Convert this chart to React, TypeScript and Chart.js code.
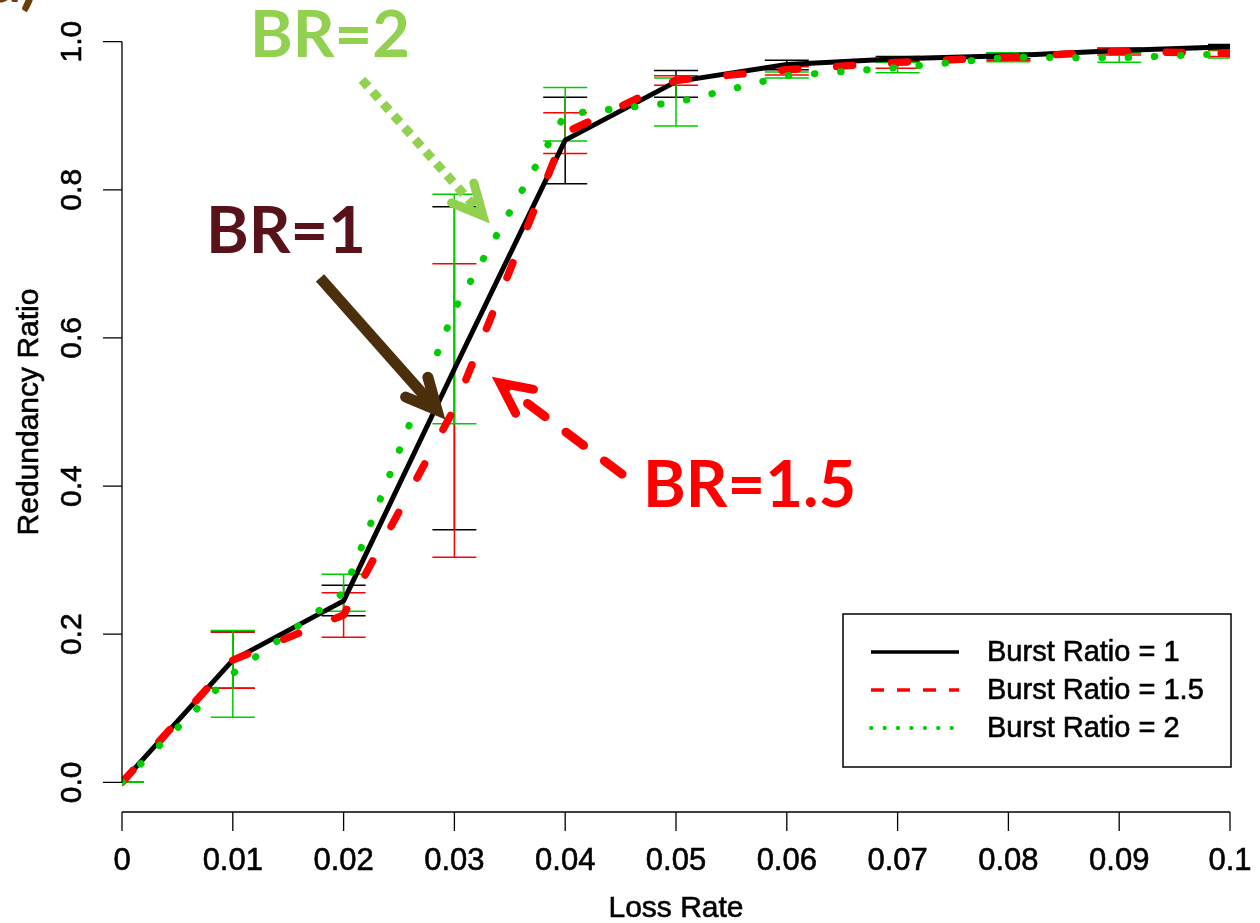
import React, { useEffect, useRef } from "react";
import { Chart, registerables } from "chart.js";

Chart.register(...registerables);

// ---------- data ----------
const lossRates = [0, 0.01, 0.02, 0.03, 0.04, 0.05, 0.06, 0.07, 0.08, 0.09, 0.1];

const br1 = [0, 0.165, 0.245, 0.558, 0.867, 0.946, 0.969, 0.977, 0.981, 0.988, 0.993];
const br1Lo = [0, 0.127, 0.225, 0.341, 0.808, 0.925, 0.962, 0.973, 0.977, 0.985, 0.99];
const br1Hi = [0, 0.203, 0.266, 0.777, 0.925, 0.961, 0.975, 0.98, 0.985, 0.991, 0.996];

const br15 = [0, 0.165, 0.226, 0.505, 0.877, 0.948, 0.962, 0.972, 0.979, 0.987, 0.984];
const br15Lo = [0, 0.127, 0.196, 0.304, 0.849, 0.941, 0.955, 0.964, 0.975, 0.982, 0.98];
const br15Hi = [0, 0.203, 0.256, 0.7, 0.904, 0.954, 0.966, 0.975, 0.983, 0.991, 0.988];

const br2 = [0, 0.147, 0.256, 0.638, 0.902, 0.918, 0.954, 0.965, 0.979, 0.978, 0.984];
const br2Lo = [0, 0.088, 0.231, 0.484, 0.866, 0.886, 0.951, 0.958, 0.973, 0.972, 0.978];
const br2Hi = [0, 0.205, 0.281, 0.794, 0.938, 0.951, 0.959, 0.972, 0.985, 0.985, 0.989];

const xTicks = [0, 0.01, 0.02, 0.03, 0.04, 0.05, 0.06, 0.07, 0.08, 0.09, 0.1];
const xTickLabels = ["0", "0.01", "0.02", "0.03", "0.04", "0.05", "0.06", "0.07", "0.08", "0.09", "0.1"];
const yTicks = [0, 0.2, 0.4, 0.6, 0.8, 1.0];
const yTickLabels = ["0.0", "0.2", "0.4", "0.6", "0.8", "1.0"];

const seriesLabels = ["Burst Ratio = 1", "Burst Ratio = 1.5", "Burst Ratio = 2"];
const xTitle = "Loss Rate";
const yTitle = "Redundancy Ratio";

// annotations (data coordinates)
const annTexts = ["BR=2", "BR=1", "BR=1.5"];
const annTextX = [0.01155, 0.00758, 0.04702];
const annTextY = [0.9797, 0.7149, 0.3716];
const annColors = ["#92d050", "#58121a", "#ff0000"];
const arrowFromX = [0.02166, 0.01787, 0.04513];
const arrowFromY = [0.9486, 0.6811, 0.4162];
const arrowToX = [0.03258, 0.02843, 0.03412];
const arrowToY = [0.7649, 0.5027, 0.5392];
const arrowColors = ["#92d050", "#4b2f0c", "#ff0000"];

const FONT = "'Liberation Sans', Arial, sans-serif";

function heavyText(ctx: CanvasRenderingContext2D, t: string, x: number, y: number) {
  ctx.fillText(t, x, y);
  ctx.strokeText(t, x, y);
}

const rPlugin = {
  id: "rstyle",
  beforeDatasetsDraw(chart: any) {
    const { ctx, chartArea } = chart;
    const xs = chart.scales.x;
    const ys = chart.scales.y;
    ctx.save();
    ctx.beginPath();
    ctx.rect(chartArea.left, chartArea.top, chartArea.right - chartArea.left, chartArea.bottom - chartArea.top);
    ctx.clip();
    ctx.lineWidth = 1.5;
    const sets = [
      { lo: br1Lo, hi: br1Hi, color: "#000000" },
      { lo: br15Lo, hi: br15Hi, color: "#ff0000" },
      { lo: br2Lo, hi: br2Hi, color: "#00cd00" },
    ];
    sets.forEach((s) => {
      ctx.strokeStyle = s.color;
      lossRates.forEach((lr, i) => {
        const px = xs.getPixelForValue(lr);
        const pl = ys.getPixelForValue(s.lo[i]);
        const ph = ys.getPixelForValue(s.hi[i]);
        ctx.beginPath();
        ctx.moveTo(px, pl);
        ctx.lineTo(px, ph);
        ctx.moveTo(px - 22, pl);
        ctx.lineTo(px + 22, pl);
        ctx.moveTo(px - 22, ph);
        ctx.lineTo(px + 22, ph);
        ctx.stroke();
      });
    });
    ctx.restore();
  },
  afterDraw(chart: any) {
    const { ctx, chartArea } = chart;
    const xs = chart.scales.x;
    const ys = chart.scales.y;
    ctx.save();
    // ---- axes ----
    ctx.strokeStyle = "#000";
    ctx.lineWidth = 1.3;
    const x0 = xs.getPixelForValue(0);
    const yb = chartArea.bottom;
    ctx.beginPath();
    ctx.moveTo(x0, ys.getPixelForValue(yTicks[0]));
    ctx.lineTo(x0, ys.getPixelForValue(yTicks[yTicks.length - 1]));
    yTicks.forEach((t) => {
      const py = ys.getPixelForValue(t);
      ctx.moveTo(x0 - 19, py);
      ctx.lineTo(x0, py);
    });
    ctx.moveTo(xs.getPixelForValue(xTicks[0]), yb);
    ctx.lineTo(xs.getPixelForValue(xTicks[xTicks.length - 1]), yb);
    xTicks.forEach((t) => {
      const px = xs.getPixelForValue(t);
      ctx.moveTo(px, yb);
      ctx.lineTo(px, yb + 19);
    });
    ctx.stroke();

    ctx.fillStyle = "#000";
    ctx.strokeStyle = "#000";
    ctx.lineWidth = 0.6;
    ctx.font = `31px ${FONT}`;
    ctx.textAlign = "center";
    ctx.textBaseline = "middle";
    xTicks.forEach((t, i) => {
      heavyText(ctx, xTickLabels[i], xs.getPixelForValue(t), yb + 49);
    });
    ctx.font = `30px ${FONT}`;
    yTicks.forEach((t, i) => {
      ctx.save();
      ctx.translate(x0 - 49, ys.getPixelForValue(t));
      ctx.rotate(-Math.PI / 2);
      heavyText(ctx, yTickLabels[i], 0, 0);
      ctx.restore();
    });
    ctx.font = `30px ${FONT}`;
    heavyText(ctx, xTitle, (xs.getPixelForValue(0) + xs.getPixelForValue(0.1)) / 2, yb + 97);
    ctx.save();
    ctx.translate(x0 - 92, (ys.getPixelForValue(0) + ys.getPixelForValue(1)) / 2);
    ctx.rotate(-Math.PI / 2);
    heavyText(ctx, yTitle, 0, 0);
    ctx.restore();

    // ---- legend ----
    const bw = 388, bh = 153;
    const bx = chartArea.right - bw + 1;
    const by = yb - 45 - bh;
    ctx.lineWidth = 1.5;
    ctx.strokeStyle = "#000";
    ctx.strokeRect(bx, by, bw, bh);
    const styles = [
      { color: "#000", width: 3.5, dash: [] as number[], cap: "butt" },
      { color: "#ff0000", width: 3.5, dash: [13, 13], cap: "butt" },
      { color: "#00cd00", width: 3.8, dash: [0.5, 12.9], cap: "round" },
    ];
    styles.forEach((s, i) => {
      const ry = by + 38 + i * 38;
      ctx.save();
      ctx.strokeStyle = s.color;
      ctx.lineWidth = s.width;
      ctx.setLineDash(s.dash);
      ctx.lineCap = s.cap as CanvasLineCap;
      ctx.beginPath();
      ctx.moveTo(bx + 28, ry);
      ctx.lineTo(bx + 116, ry);
      ctx.stroke();
      ctx.restore();
      ctx.fillStyle = "#000";
      ctx.strokeStyle = "#000";
      ctx.lineWidth = 0.6;
      ctx.font = `29px ${FONT}`;
      ctx.textAlign = "left";
      ctx.textBaseline = "middle";
      heavyText(ctx, seriesLabels[i], bx + 144, ry + 1);
    });

    // ---- annotations ----
    const arrowStyles = [
      { width: 9, dash: [9, 7], cap: "butt" },
      { width: 11, dash: [] as number[], cap: "butt" },
      { width: 9, dash: [22, 26], cap: "round" },
    ];
    arrowStyles.forEach((s, i) => {
      const fx = xs.getPixelForValue(arrowFromX[i]);
      const fy = ys.getPixelForValue(arrowFromY[i]);
      const tx = xs.getPixelForValue(arrowToX[i]);
      const ty = ys.getPixelForValue(arrowToY[i]);
      const ang = Math.atan2(ty - fy, tx - fx);
      ctx.save();
      ctx.strokeStyle = arrowColors[i];
      ctx.lineWidth = s.width;
      ctx.lineCap = s.cap as CanvasLineCap;
      ctx.setLineDash(s.dash);
      ctx.beginPath();
      ctx.moveTo(fx, fy);
      ctx.lineTo(tx - Math.cos(ang) * 6, ty - Math.sin(ang) * 6);
      ctx.stroke();
      ctx.setLineDash([]);
      ctx.lineCap = "round";
      ctx.lineJoin = "miter";
      const L = 34, a = (26 * Math.PI) / 180;
      ctx.beginPath();
      ctx.moveTo(tx - L * Math.cos(ang - a), ty - L * Math.sin(ang - a));
      ctx.lineTo(tx, ty);
      ctx.lineTo(tx - L * Math.cos(ang + a), ty - L * Math.sin(ang + a));
      ctx.stroke();
      ctx.restore();
    });
    ctx.textAlign = "left";
    ctx.textBaseline = "alphabetic";
    ctx.font = `bold 65px Lato, 'Open Sans', sans-serif`;
    annTexts.forEach((t, i) => {
      ctx.fillStyle = annColors[i];
      ctx.fillText(t, xs.getPixelForValue(annTextX[i]), ys.getPixelForValue(annTextY[i]));
    });
    // partial panel label at the top-left corner
    ctx.fillStyle = "#6b3f0c";
    ctx.textAlign = "right";
    ctx.fillText("a)", 38, 2);
    ctx.restore();
  },
};

export default function App() {
  const ref = useRef<HTMLCanvasElement | null>(null);
  useEffect(() => {
    if (!ref.current) return;
    const mk = (vals: number[]) => lossRates.map((x, i) => ({ x, y: vals[i] }));
    const chart = new Chart(ref.current, {
      type: "line",
      data: {
        datasets: [
          {
            label: seriesLabels[0],
            data: mk(br1),
            borderColor: "#000000",
            borderWidth: 5,
            pointRadius: 0,
            tension: 0,
            order: 3,
            borderCapStyle: "round",
            borderJoinStyle: "round",
          },
          {
            label: seriesLabels[1],
            data: mk(br15),
            borderColor: "#ff0000",
            borderWidth: 7.5,
            borderDash: [16, 39],
            pointRadius: 0,
            tension: 0,
            order: 2,
            borderCapStyle: "round",
            borderJoinStyle: "round",
          },
          {
            label: seriesLabels[2],
            data: mk(br2),
            borderColor: "#00cd00",
            borderWidth: 7,
            borderDash: [0.5, 25.7],
            pointRadius: 0,
            tension: 0,
            order: 1,
            borderCapStyle: "round",
            borderJoinStyle: "round",
          },
        ],
      },
      options: {
        animation: false,
        responsive: false,
        devicePixelRatio: 1,
        layout: { padding: { left: 122, right: 30, top: 12, bottom: 111 } },
        scales: {
          x: { type: "linear", min: 0, max: 0.1, display: false },
          y: { type: "linear", min: -0.04, max: 1.04, display: false },
        },
        plugins: { legend: { display: false }, tooltip: { enabled: false } },
      },
      plugins: [rPlugin],
    } as any);
    return () => chart.destroy();
  }, []);
  return (
    <div style={{ position: "absolute", left: 0, top: 0, width: 1260, height: 923, background: "#fff" }}>
      <canvas ref={ref} width={1260} height={923} style={{ display: "block" }} />
    </div>
  );
}
